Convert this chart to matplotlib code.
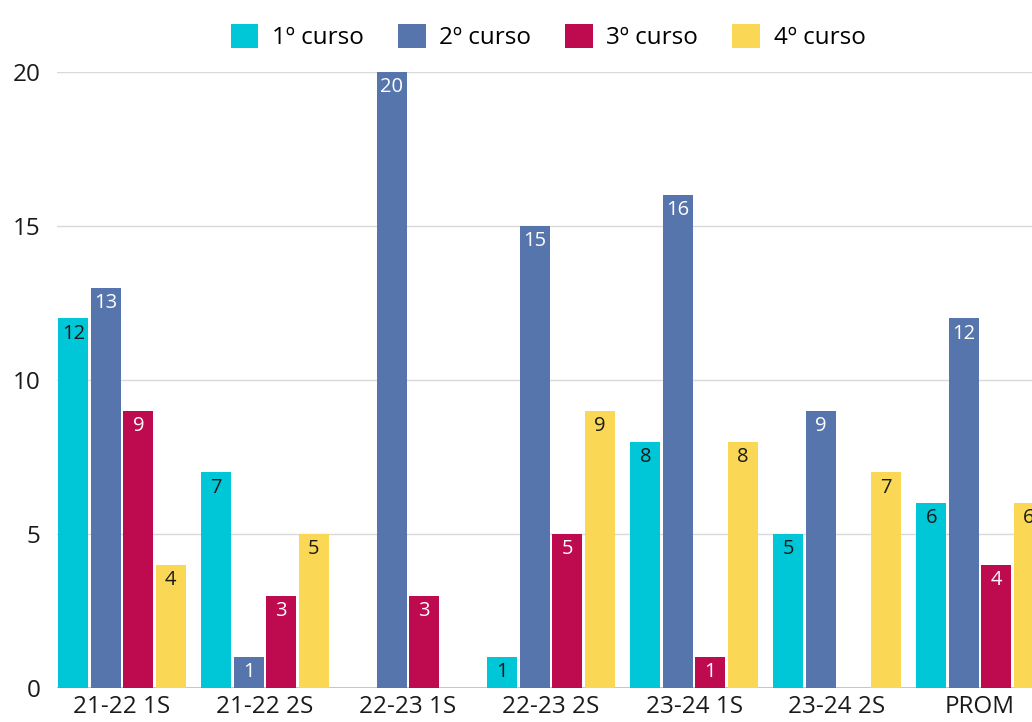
import matplotlib
matplotlib.use("Agg")
import matplotlib.pyplot as plt
from matplotlib.patches import Patch
import numpy as np

plt.rcParams['font.family'] = ['Open Sans', 'DejaVu Sans']

categories = ["21-22 1S", "21-22 2S", "22-23 1S", "22-23 2S", "23-24 1S", "23-24 2S", "PROM"]
series_names = ["1º curso", "2º curso", "3º curso", "4º curso"]
curso1 = [12, 7, 0, 1, 8, 5, 6]
curso2 = [13, 1, 20, 15, 16, 9, 12]
curso3 = [9, 3, 3, 5, 1, 0, 4]
curso4 = [4, 5, 0, 9, 8, 7, 6]
y_ticks = [0, 5, 10, 15, 20]

colors = ["#00C7D8", "#5675AD", "#BE0A4F", "#FAD855"]
label_colors = ["#1a1a1a", "white", "white", "#1a1a1a"]
series = [curso1, curso2, curso3, curso4]

fig = plt.figure(figsize=(10.32, 7.22), dpi=100)
# axes extend past the right edge of the figure so the last group is clipped
ax = fig.add_axes([57 / 1032, 34 / 722, 1001 / 1032, 616 / 722])

x = np.arange(len(categories))
slot = 0.2275
bar_w = 0.21
offsets = (np.arange(4) - 1.5) * slot

for i, (vals, col, lcol) in enumerate(zip(series, colors, label_colors)):
    bars = ax.bar(x + offsets[i], vals, width=bar_w, color=col, zorder=3)
    for b, v in zip(bars, vals):
        if v > 0:
            ax.annotate(str(v), (b.get_x() + b.get_width() / 2, v),
                        xytext=(0, -11), textcoords="offset points",
                        ha="center", va="center", fontsize=14.5, color=lcol,
                        zorder=4, annotation_clip=False)

ax.set_xlim(-0.455, len(categories) - 0.455)
ax.set_ylim(0, 20)
ax.set_yticks(y_ticks)
ax.set_xticks(x)
ax.set_xticklabels(categories)
ax.tick_params(axis="both", length=0, labelsize=17.5, colors="#1a1a1a")
ax.tick_params(axis="y", pad=12)
ax.tick_params(axis="x", pad=5)
for s in ax.spines.values():
    s.set_visible(False)
ax.yaxis.grid(True, color="#d9d9d9", linewidth=1, zorder=0)
ax.axhline(0, color="#bdbdbd", linewidth=1.2, zorder=2)

handles = [Patch(facecolor=c, edgecolor="none") for c in colors]
fig.legend(handles, series_names, loc="center", bbox_to_anchor=(548 / 1032, 1 - 37 / 722),
           ncol=4, frameon=False, fontsize=17.5, handlelength=1.15, handleheight=1.15,
           handletextpad=0.55, columnspacing=1.4)

fig.savefig("out.png", dpi=100)
